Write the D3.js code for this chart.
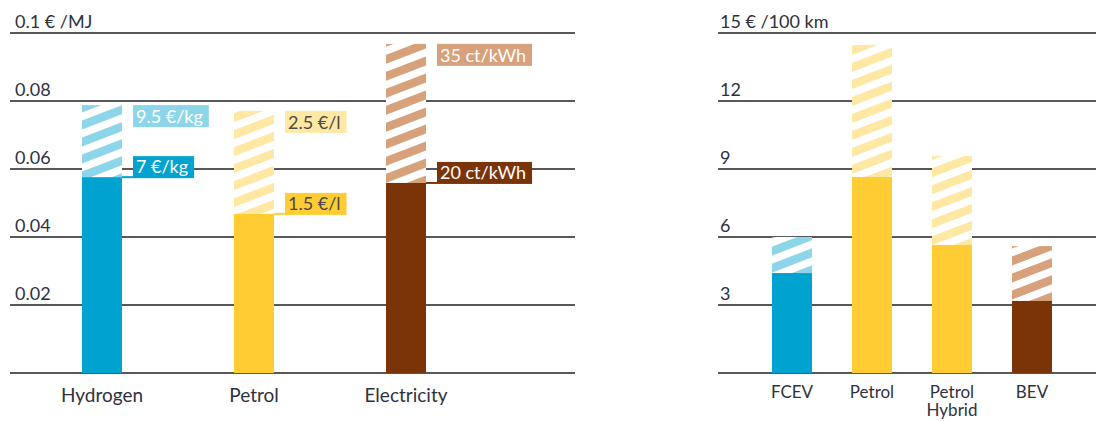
<!DOCTYPE html>
<html>
<head>
<meta charset="utf-8">
<script src="https://cdn.jsdelivr.net/npm/d3@7"></script>
<style>
  body { margin: 0; background: #fff; }
  svg { font-family: "Lato", "Noto Sans", sans-serif; }
</style>
</head>
<body>
<div id="chart"></div>
<script>
// left panel: fuel cost per MJ
const fuels = ["Hydrogen", "Petrol", "Electricity"];
const fuelLow = [0.0576, 0.0468, 0.0559];
const fuelHigh = [0.0788, 0.0771, 0.0968];
const lowLabels = ["7 €/kg", "1.5 €/l", "20 ct/kWh"];
const highLabels = ["9.5 €/kg", "2.5 €/l", "35 ct/kWh"];
const leftTicks = [0.02, 0.04, 0.06, 0.08, 0.1];
const leftTickText = ["0.02", "0.04", "0.06", "0.08", "0.1 € /MJ"];

// right panel: cost per 100 km
const cars = ["FCEV", "Petrol", "Petrol Hybrid", "BEV"];
const carLow = [4.41, 8.65, 5.65, 3.18];
const carHigh = [6.0, 14.47, 9.57, 5.6];
const rightTicks = [3, 6, 9, 12, 15];
const rightTickText = ["3", "6", "9", "12", "15 € /100 km"];

const solid = ["#00a3cf", "#ffcd33", "#7b3408"];
const light = ["#8dd6ea", "#ffe8a3", "#d6a17b"];
const carColor = [0, 1, 1, 2]; // index into colour arrays

const width = 1096, height = 421;

let svg = d3.select("#chart").append("svg")
    .attr("width", width)
    .attr("height", height);

// hatch patterns
let defs = svg.append("defs");
light.forEach((c, i) => {
    let p = defs.append("pattern")
        .attr("id", "hatch" + i)
        .attr("patternUnits", "userSpaceOnUse")
        .attr("width", 10)
        .attr("height", 17)
        .attr("patternTransform", "skewY(-21)");
    p.append("rect").attr("width", 10).attr("height", 17).attr("fill", c);
    p.append("rect").attr("y", 8).attr("width", 10).attr("height", 8).attr("fill", "#fff");
});

const baseY = 373, topY = 33;
const textDark = "#2f3140";

// ---- left chart ----
let yL = d3.scaleLinear().domain([0, 0.1]).range([baseY, topY]);
let xL = d3.scaleBand().domain(fuels).range([26, 482]).paddingInner(0.737).paddingOuter(0.3685);

let gL = svg.append("g");
gL.selectAll(".grid").data([0].concat(leftTicks)).join("line")
    .attr("x1", 10).attr("x2", 575)
    .attr("y1", d => yL(d)).attr("y2", d => yL(d))
    .attr("stroke", "#58585a").attr("stroke-width", 2);
gL.selectAll(".tick").data(leftTicks).join("text")
    .attr("x", 15).attr("y", d => yL(d) - 5)
    .attr("font-size", 18).attr("fill", textDark)
    .text((d, i) => leftTickText[i]);

fuels.forEach((f, i) => {
    let x0 = xL(f), w = xL.bandwidth();
    gL.append("rect").attr("x", x0).attr("width", w)
        .attr("y", yL(fuelHigh[i])).attr("height", yL(fuelLow[i]) - yL(fuelHigh[i]))
        .attr("fill", `url(#hatch${i})`);
    gL.append("rect").attr("x", x0).attr("width", w)
        .attr("y", yL(fuelLow[i])).attr("height", baseY - yL(fuelLow[i]))
        .attr("fill", solid[i]);

    // labels
    const textCol = i === 1 ? "#4a4a4a" : "#fff";
    const bx = x0 + w + 11;
    // high label: top aligned with hatch top
    let ht = gL.append("g");
    let htText = ht.append("text").attr("x", bx + 3).attr("y", yL(fuelHigh[i]) + 18)
        .attr("font-size", 18).attr("fill", textCol).text(highLabels[i]);
    let hw = htText.node().getComputedTextLength() + 9;
    ht.insert("rect", "text").attr("x", bx).attr("y", yL(fuelHigh[i]))
        .attr("width", hw).attr("height", 22).attr("fill", light[i]);
    // low label: bottom aligned with solid top
    let lt = gL.append("g");
    let ltText = lt.append("text").attr("x", bx + 3).attr("y", yL(fuelLow[i]) - 4)
        .attr("font-size", 18).attr("fill", textCol).text(lowLabels[i]);
    let lw = ltText.node().getComputedTextLength() + 9;
    lt.insert("rect", "text").attr("x", bx).attr("y", yL(fuelLow[i]) - 21)
        .attr("width", lw).attr("height", 22).attr("fill", solid[i]);
    lt.insert("line", "rect").attr("x1", x0 + w).attr("x2", bx)
        .attr("y1", yL(fuelLow[i])).attr("y2", yL(fuelLow[i]))
        .attr("stroke", solid[i]).attr("stroke-width", 2);

    gL.append("text").attr("x", x0 + w / 2).attr("y", 402)
        .attr("text-anchor", "middle").attr("font-size", 19).attr("fill", textDark)
        .text(f);
});

// ---- right chart ----
let yR = d3.scaleLinear().domain([0, 15]).range([baseY, topY]);
let xR = d3.scaleBand().domain(cars).range([752, 1072]).paddingInner(0.5).paddingOuter(0.25);

let gR = svg.append("g");
gR.selectAll(".grid").data([0].concat(rightTicks)).join("line")
    .attr("x1", 718).attr("x2", 1096)
    .attr("y1", d => yR(d)).attr("y2", d => yR(d))
    .attr("stroke", "#58585a").attr("stroke-width", 2);
gR.selectAll(".tick").data(rightTicks).join("text")
    .attr("x", 720).attr("y", d => yR(d) - 5)
    .attr("font-size", 18).attr("fill", textDark)
    .text((d, i) => rightTickText[i]);

cars.forEach((c, i) => {
    let x0 = xR(c), w = xR.bandwidth(), ci = carColor[i];
    gR.append("rect").attr("x", x0).attr("width", w)
        .attr("y", yR(carHigh[i])).attr("height", yR(carLow[i]) - yR(carHigh[i]))
        .attr("fill", `url(#hatch${ci})`);
    gR.append("rect").attr("x", x0).attr("width", w)
        .attr("y", yR(carLow[i])).attr("height", baseY - yR(carLow[i]))
        .attr("fill", solid[ci]);
    c.split(" ").forEach((word, k) => {
        gR.append("text").attr("x", x0 + w / 2).attr("y", 398 + k * 18)
            .attr("text-anchor", "middle").attr("font-size", 17).attr("fill", textDark)
            .text(word);
    });
});
</script>
</body>
</html>
